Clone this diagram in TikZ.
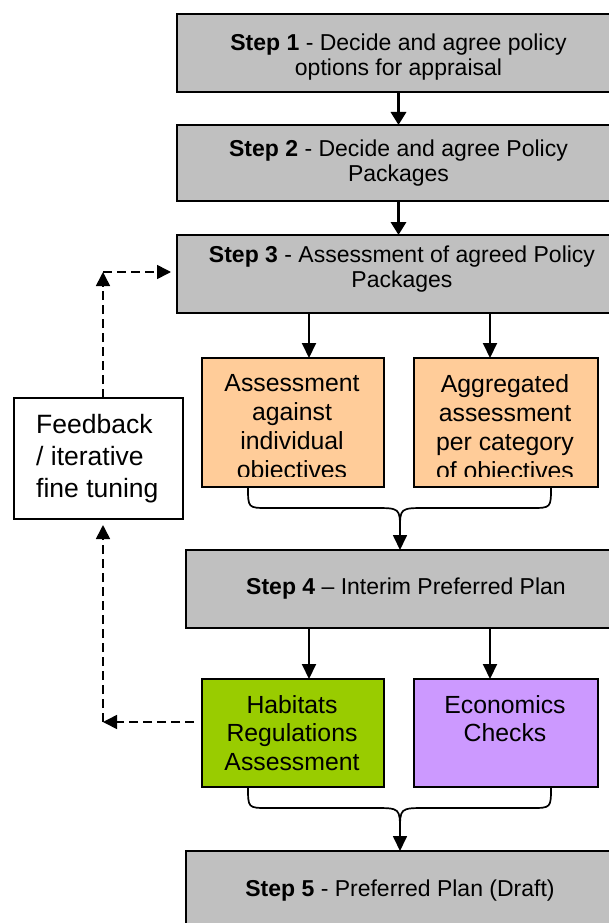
\documentclass[tikz,border=0pt]{standalone}
\usepackage{fontspec}
\setmainfont{Liberation Sans}
\usetikzlibrary{arrows.meta}
\definecolor{stepgray}{HTML}{C0C0C0}
\definecolor{orangefill}{HTML}{FFCC99}
\definecolor{greenfill}{HTML}{99CC00}
\definecolor{purplefill}{HTML}{CC99FF}
\begin{document}
\begin{tikzpicture}[x=1pt,y=-1pt,
  box/.style={draw=black,line width=2pt,inner sep=0pt,outer sep=0pt},
  stepbox/.style={box,fill=stepgray,minimum height=78pt},
  steptext/.style={anchor=north,align=center,inner sep=0pt,font=\fontsize{23}{25}\selectfont},
  subtext/.style={anchor=north,align=center,inner sep=0pt,font=\fontsize{24.8}{28.8}\selectfont},
  fbtext/.style={anchor=north west,align=left,inner sep=0pt,font=\fontsize{26.5}{32}\selectfont},
  thickarrow/.style={line width=3.5pt,-{Triangle[length=13pt,width=15pt]}},
  thinarrow/.style={line width=2pt,-{Triangle[length=15pt,width=14pt]}},
  bracestyle/.style={line width=1.7pt},
  bracearrow/.style={line width=1.7pt,-{Triangle[length=15pt,width=14pt]}},
  dasharrow/.style={line width=1.6pt,dash pattern=on 9pt off 5pt,-{Triangle[length=14pt,width=14pt]}}
]
\useasboundingbox (0,0) rectangle (609,923);
\clip (0,0) rectangle (609,923);

% step boxes
\node[stepbox,minimum width=443pt] (s1) at (398.5,53) {};
\node[stepbox,minimum width=443pt,minimum height=76pt] (s2) at (398.5,163) {};
\node[stepbox,minimum width=443pt] (s3) at (398.5,274) {};
\node[stepbox,minimum width=440pt] (s4) at (406,589) {};
\node[stepbox,minimum width=440pt] (s5) at (406,890) {};

\node[steptext] (t1) at (398.5,33.5) {\textbf{Step 1} - Decide and agree policy\\options for appraisal};
\node[steptext] (t2) at (398.5,139.5) {\textbf{Step 2} - Decide and agree Policy\\Packages};
\node[steptext] (t3) at (402,246) {\textbf{Step 3} - Assessment of agreed Policy\\Packages};
\node[steptext] (t4) at (406,577.5) {\textbf{Step 4} – Interim Preferred Plan};
\node[steptext] (t5) at (400,879.5) {\textbf{Step 5} - Preferred Plan (Draft)};

% sub boxes
\node[box,fill=orangefill,minimum width=182pt,minimum height=129pt] (ob1) at (293,422.5) {};
\node[box,fill=orangefill,minimum width=184pt,minimum height=129pt] (ob2) at (506,422.5) {};
\begin{scope}
  \clip (200,356) rectangle (600,476);
  \node[subtext] (ot1) at (292,374.5) {Assessment\\against\\individual\\objectives};
  \node[subtext] (ot2) at (505,374.5) {Aggregated\\assessment\\per category\\of objectives};
\end{scope}

\node[box,fill=greenfill,minimum width=182pt,minimum height=108pt] (hra) at (293,733) {};
\node[box,fill=purplefill,minimum width=184pt,minimum height=108pt] (eco) at (506,733) {};
\node[subtext] (ht) at (292,695) {Habitats\\Regulations\\Assessment};
\node[subtext] (et) at (505,695) {Economics\\Checks};

% feedback box
\node[box,fill=white,minimum width=169pt,minimum height=121pt] (fb) at (98.5,458.5) {};
\node[fbtext] (ft) at (36,414) {Feedback\\/ iterative\\fine tuning};

% helper coordinates
\coordinate (xa) at (309,0);
\coordinate (xb) at (490,0);
\coordinate (xl) at (248,0);
\coordinate (xr) at (551,0);
\coordinate (j1) at (400,530);
\coordinate (j2) at (400,831);
\coordinate (c1) at (103,272);
\coordinate (c2) at (103,722);

% main arrows
\draw[thickarrow] (s1.south) -- (s2.north);
\draw[thickarrow] (s2.south) -- (s3.north);
\draw[thinarrow] (s3.south -| xa) -- (ob1.north -| xa);
\draw[thinarrow] (s3.south -| xb) -- (ob2.north -| xb);
\draw[thinarrow] (s4.south -| xa) -- (hra.north -| xa);
\draw[thinarrow] (s4.south -| xb) -- (eco.north -| xb);

% upper brace
\draw[bracestyle] (ob1.south -| xl) .. controls (248,508) .. (268,508) -- (374,508) .. controls (400,508) .. (j1);
\draw[bracestyle] (ob2.south -| xr) .. controls (551,508) .. (531,508) -- (426,508) .. controls (400,508) .. (j1);
\draw[bracearrow] (j1) -- (s4.north -| j1);

% lower brace
\draw[bracestyle] (hra.south -| xl) .. controls (248,808) .. (268,808) -- (374,808) .. controls (400,808) .. (j2);
\draw[bracestyle] (eco.south -| xr) .. controls (551,808) .. (531,808) -- (426,808) .. controls (400,808) .. (j2);
\draw[bracearrow] (j2) -- (s5.north -| j2);

% feedback loop
\draw[dasharrow] (fb.north -| c1) -- (c1);
\draw[dasharrow,shorten >=6pt] (c1) -- (c1 -| s3.west);
\draw[dasharrow,shorten <=8pt] (c2 -| hra.west) -- (c2);
\draw[dasharrow,shorten >=6pt] (c2) -- (fb.south -| c2);
\end{tikzpicture}
\end{document}
